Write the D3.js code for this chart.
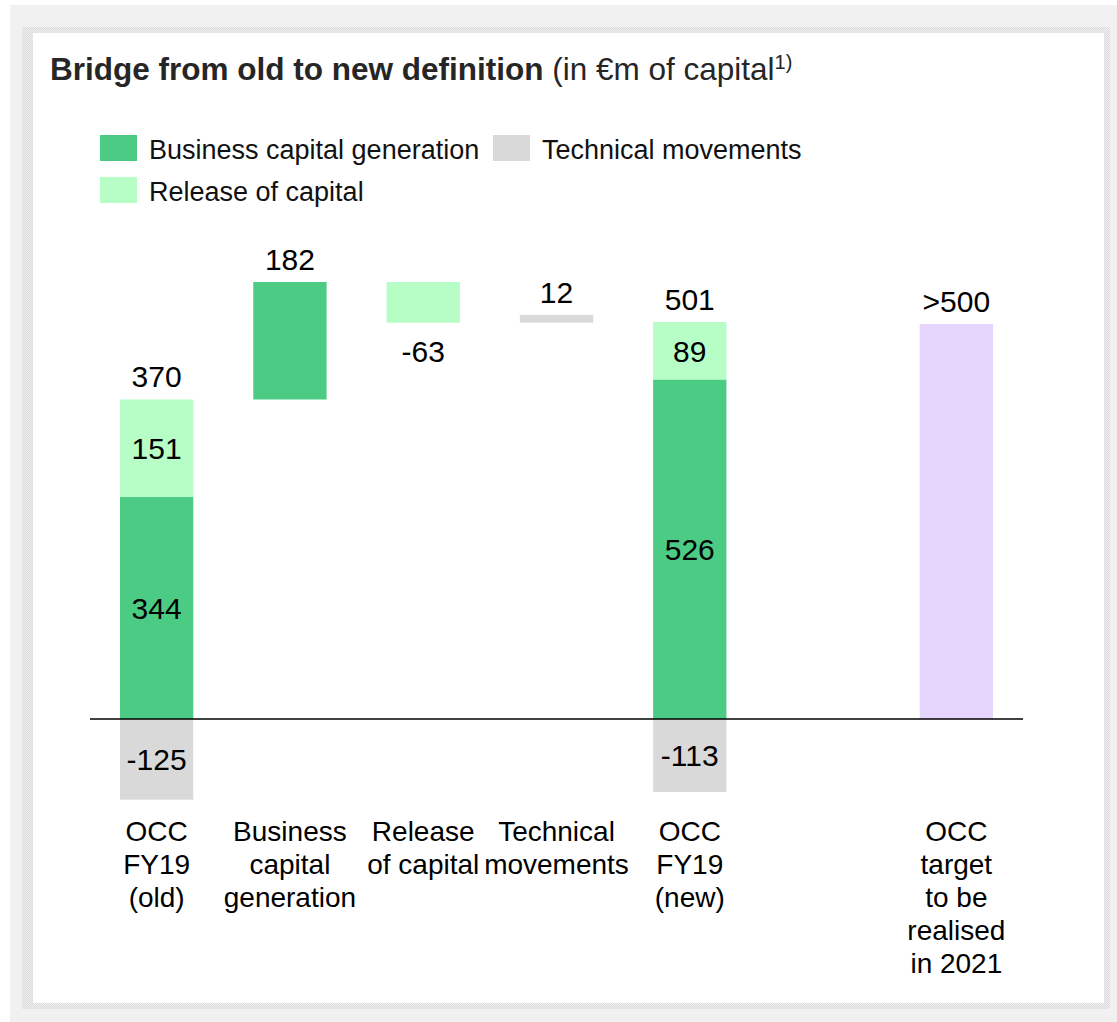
<!DOCTYPE html>
<html>
<head>
<meta charset="utf-8">
<script src="https://cdn.jsdelivr.net/npm/d3@7"></script>
<style>
  body { margin: 0; background: #fff; }
  svg { display: block; font-family: "Liberation Sans", Arial, sans-serif; }
</style>
</head>
<body>
<div id="chart"></div>
<script>
// categories (one empty slot between "new" and the target)
const steps = ["old", "bcg", "release", "tech", "new", "gap", "target"];
const categoryLines = [
    ["OCC", "FY19", "(old)"],
    ["Business", "capital", "generation"],
    ["Release", "of capital"],
    ["Technical", "movements"],
    ["OCC", "FY19", "(new)"],
    [],
    ["OCC", "target", "to be", "realised", "in 2021"]
];

// stacked bars: business, release, technical
const oldStack = [344, 151, -125];
const newStack = [526, 89, -113];
const stackTotals = ["370", "501"];

// bridge steps
const bridgeKeys = ["bcg", "release", "tech"];
const bridgeValues = [182, -63, 12];
const bridgeTypes = ["business", "release", "technical"];

const targetValue = 612;
const targetLabel = ">500";

const legendItems = ["Business capital generation", "Technical movements", "Release of capital"];
const legendTypes = ["business", "technical", "release"];

const colors = {
    business: "#4bcb83",
    release: "#b7fdc6",
    technical: "#d9d9d9",
    target: "#e5d4fc"
};

function main() {
    const W = 1117, H = 1022;
    const svg = d3.select("#chart").append("svg")
        .attr("width", W)
        .attr("height", H);

    // background + panel
    const defs = svg.append("defs");
    const pat = defs.append("pattern")
        .attr("id", "dots")
        .attr("width", 2).attr("height", 2)
        .attr("patternUnits", "userSpaceOnUse");
    pat.append("rect").attr("width", 2).attr("height", 2).attr("fill", "#f0f0f0");
    pat.append("rect").attr("width", 1).attr("height", 1).attr("fill", "#dadada");
    pat.append("rect").attr("x", 1).attr("y", 1).attr("width", 1).attr("height", 1).attr("fill", "#dadada");

    svg.append("rect").attr("x", 10).attr("y", 5).attr("width", W - 10).attr("height", H - 5).attr("fill", "#f1f1f1");
    svg.append("rect").attr("x", 22).attr("y", 27).attr("width", 1088).attr("height", 982).attr("fill", "url(#dots)");
    svg.append("rect").attr("x", 33).attr("y", 33).attr("width", 1071).attr("height", 970).attr("fill", "#fff");

    // title
    const title = svg.append("text")
        .attr("x", 50).attr("y", 80)
        .attr("fill", "#262626")
        .style("font-size", "31.5px");
    title.append("tspan").attr("font-weight", "bold").text("Bridge from old to new definition");
    title.append("tspan").text(" (in €m of capital");
    title.append("tspan").attr("dy", -11).style("font-size", "20px").text("1)");

    // legend
    const legendPos = [[100, 135], [493, 135], [100, 177]];
    const lg = svg.append("g").selectAll("g")
        .data(legendItems)
        .join("g")
        .attr("transform", (d, i) => `translate(${legendPos[i][0]},${legendPos[i][1]})`);
    lg.append("rect")
        .attr("width", 37).attr("height", 26)
        .attr("fill", (d, i) => colors[legendTypes[i]]);
    lg.append("text")
        .attr("x", 49).attr("y", 24)
        .style("font-size", "27px")
        .attr("fill", "#111")
        .text(d => d);

    // scales
    const x = d3.scaleBand()
        .domain(steps)
        .range([90, 1023])
        .paddingInner(0.45)
        .paddingOuter(0.225);

    const y = d3.scaleLinear()
        .domain([0, 677])
        .range([719, 282]);

    const bw = x.bandwidth();
    const valueSize = 30;

    // build bar segments
    const segs = [];
    const labels = [];
    function addStack(key, vals, total) {
        const types = ["business", "release", "technical"];
        let pos = 0;
        vals.forEach((v, i) => {
            let y0, y1;
            if (v >= 0) { y0 = pos; y1 = pos + v; pos += v; }
            else { y0 = v; y1 = 0; }
            segs.push({ key, y0, y1, type: types[i] });
            labels.push({ key, text: String(v), yc: (y(y0) + y(y1)) / 2, inside: true });
        });
        labels.push({ key, text: total, top: y(pos), above: true });
    }
    addStack("old", oldStack, stackTotals[0]);

    let running = oldStack[0] + oldStack[1];
    bridgeValues.forEach((v, i) => {
        const y0 = running, y1 = running + v;
        segs.push({ key: bridgeKeys[i], y0: Math.min(y0, y1), y1: Math.max(y0, y1), type: bridgeTypes[i] });
        if (v >= 0) labels.push({ key: bridgeKeys[i], text: String(v), top: y(y1), above: true });
        else labels.push({ key: bridgeKeys[i], text: String(v), bottom: y(y1), below: true });
        running = y1;
    });

    addStack("new", newStack, stackTotals[1]);
    segs.push({ key: "target", y0: 0, y1: targetValue, type: "target" });
    labels.push({ key: "target", text: targetLabel, top: y(targetValue), above: true });

    svg.append("g").selectAll("rect")
        .data(segs)
        .join("rect")
        .attr("x", d => x(d.key))
        .attr("width", bw)
        .attr("y", d => y(d.y1))
        .attr("height", d => y(d.y0) - y(d.y1))
        .attr("fill", d => colors[d.type]);

    // zero line
    svg.append("line")
        .attr("x1", x.range()[0]).attr("x2", x.range()[1])
        .attr("y1", y(0)).attr("y2", y(0))
        .attr("stroke", "#000")
        .attr("stroke-width", 1.5);

    // value labels
    svg.append("g").selectAll("text")
        .data(labels)
        .join("text")
        .attr("x", d => x(d.key) + bw / 2)
        .attr("y", d => {
            if (d.inside) return d.yc + 11;
            if (d.above) return d.top - 12;
            return d.bottom + 39;
        })
        .attr("text-anchor", "middle")
        .style("font-size", valueSize + "px")
        .attr("fill", "#000")
        .text(d => d.text);

    // category labels
    const cat = svg.append("g").selectAll("text")
        .data(steps)
        .join("text")
        .attr("x", d => x(d) + bw / 2)
        .attr("y", 841)
        .attr("text-anchor", "middle")
        .style("font-size", "28px")
        .attr("fill", "#000");
    cat.selectAll("tspan")
        .data((d, i) => categoryLines[i])
        .join("tspan")
        .attr("x", function() { return this.parentNode.getAttribute("x"); })
        .attr("dy", (d, i) => i === 0 ? 0 : 33)
        .text(d => d);
}

main();
</script>
</body>
</html>
